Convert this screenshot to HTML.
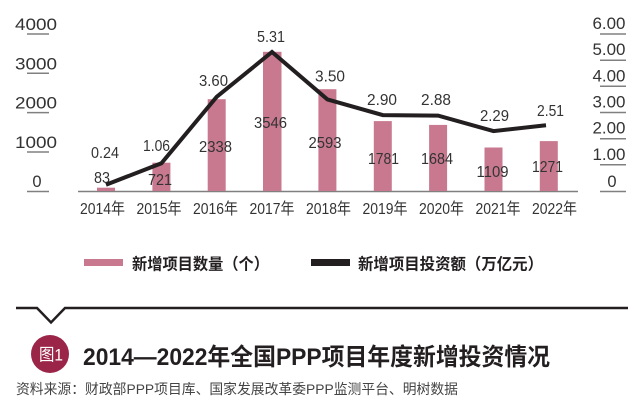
<!DOCTYPE html>
<html><head><meta charset="utf-8"><style>
html,body{margin:0;padding:0;background:#fff;}
svg{display:block;}
text{font-family:"Liberation Sans","Noto Sans CJK SC",sans-serif;}
</style></head><body>
<svg width="644" height="417" viewBox="0 0 644 417" xmlns="http://www.w3.org/2000/svg">
<rect width="644" height="417" fill="#fff"/>
<!-- left axis ticks -->
<g stroke="#808080" stroke-width="1.5">
<line x1="27" y1="34" x2="49" y2="34"/>
<line x1="27" y1="73.3" x2="49" y2="73.3"/>
<line x1="27" y1="112.6" x2="49" y2="112.6"/>
<line x1="27" y1="152" x2="49" y2="152"/>
<line x1="27" y1="191.5" x2="49" y2="191.5"/>
<line x1="600" y1="34" x2="626" y2="34"/>
<line x1="600" y1="60.2" x2="626" y2="60.2"/>
<line x1="600" y1="86.3" x2="626" y2="86.3"/>
<line x1="600" y1="112.5" x2="626" y2="112.5"/>
<line x1="600" y1="138.7" x2="626" y2="138.7"/>
<line x1="600" y1="164.8" x2="626" y2="164.8"/>
<line x1="600" y1="191.5" x2="626" y2="191.5"/>
<line x1="78" y1="191.5" x2="578" y2="191.5"/>
</g>
<g fill="#333" font-size="16.5" text-anchor="middle">
<text x="36" y="30" textLength="42" lengthAdjust="spacingAndGlyphs">4000</text>
<text x="36" y="69.3" textLength="42" lengthAdjust="spacingAndGlyphs">3000</text>
<text x="36" y="108.6" textLength="42" lengthAdjust="spacingAndGlyphs">2000</text>
<text x="36" y="148" textLength="42" lengthAdjust="spacingAndGlyphs">1000</text>
<text x="37" y="187">0</text>
<text x="609" y="29" textLength="33" lengthAdjust="spacingAndGlyphs">6.00</text>
<text x="609" y="55.2" textLength="33" lengthAdjust="spacingAndGlyphs">5.00</text>
<text x="609" y="81.3" textLength="33" lengthAdjust="spacingAndGlyphs">4.00</text>
<text x="609" y="107.5" textLength="33" lengthAdjust="spacingAndGlyphs">3.00</text>
<text x="609" y="133.7" textLength="33" lengthAdjust="spacingAndGlyphs">2.00</text>
<text x="609" y="159.8" textLength="33" lengthAdjust="spacingAndGlyphs">1.00</text>
<text x="612" y="187">0</text>
</g>
<!-- bars -->
<g fill="#c87990">
<rect x="97" y="187.7" width="18" height="3.3"/>
<rect x="152.4" y="162.7" width="18" height="28.3"/>
<rect x="207.7" y="99.2" width="18" height="91.8"/>
<rect x="263" y="51.8" width="18.5" height="139.2"/>
<rect x="318.4" y="89.2" width="18" height="101.8"/>
<rect x="373.8" y="121.1" width="18" height="69.9"/>
<rect x="429.1" y="124.9" width="18" height="66.1"/>
<rect x="484.5" y="147.5" width="18" height="43.5"/>
<rect x="539.8" y="141.1" width="18" height="49.9"/>
</g>
<!-- count labels -->
<g fill="#333" font-size="16" text-anchor="middle">
<text x="102" y="183" textLength="16" lengthAdjust="spacingAndGlyphs">83</text>
<text x="160" y="185" textLength="24" lengthAdjust="spacingAndGlyphs">721</text>
<text x="215.5" y="152" textLength="33" lengthAdjust="spacingAndGlyphs">2338</text>
<text x="270.5" y="128" textLength="33" lengthAdjust="spacingAndGlyphs">3546</text>
<text x="325" y="148" textLength="33" lengthAdjust="spacingAndGlyphs">2593</text>
<text x="383.5" y="164" textLength="31" lengthAdjust="spacingAndGlyphs">1781</text>
<text x="437" y="164" textLength="32" lengthAdjust="spacingAndGlyphs">1684</text>
<text x="492.5" y="177" textLength="32" lengthAdjust="spacingAndGlyphs">1109</text>
<text x="547.5" y="172" textLength="31" lengthAdjust="spacingAndGlyphs">1271</text>
</g>
<!-- line -->
<polyline fill="none" stroke="#231f20" stroke-width="4" stroke-linejoin="miter" points="106,184.7 161.4,163.3 216.7,96.8 272,52 327.4,99.4 382.8,115.1 438.1,115.6 493.5,131.1 546,125.3"/>
<!-- value labels -->
<g fill="#333" font-size="16" text-anchor="middle">
<text x="105" y="158" textLength="28" lengthAdjust="spacingAndGlyphs">0.24</text>
<text x="156.5" y="151" textLength="27" lengthAdjust="spacingAndGlyphs">1.06</text>
<text x="213.5" y="86" textLength="29" lengthAdjust="spacingAndGlyphs">3.60</text>
<text x="271" y="42" textLength="28" lengthAdjust="spacingAndGlyphs">5.31</text>
<text x="330" y="81.5" textLength="30" lengthAdjust="spacingAndGlyphs">3.50</text>
<text x="382" y="105" textLength="30" lengthAdjust="spacingAndGlyphs">2.90</text>
<text x="436" y="105" textLength="30" lengthAdjust="spacingAndGlyphs">2.88</text>
<text x="494.5" y="121" textLength="29" lengthAdjust="spacingAndGlyphs">2.29</text>
<text x="550.5" y="116" textLength="27" lengthAdjust="spacingAndGlyphs">2.51</text>
</g>
<!-- x labels -->
<g fill="#333" font-size="16" text-anchor="middle">
<text x="102.5" y="214" textLength="45" lengthAdjust="spacingAndGlyphs">2014年</text>
<text x="159" y="214" textLength="45" lengthAdjust="spacingAndGlyphs">2015年</text>
<text x="215.5" y="214" textLength="45" lengthAdjust="spacingAndGlyphs">2016年</text>
<text x="272" y="214" textLength="45" lengthAdjust="spacingAndGlyphs">2017年</text>
<text x="328.5" y="214" textLength="45" lengthAdjust="spacingAndGlyphs">2018年</text>
<text x="385" y="214" textLength="45" lengthAdjust="spacingAndGlyphs">2019年</text>
<text x="441.5" y="214" textLength="45" lengthAdjust="spacingAndGlyphs">2020年</text>
<text x="498" y="214" textLength="45" lengthAdjust="spacingAndGlyphs">2021年</text>
<text x="554.5" y="214" textLength="45" lengthAdjust="spacingAndGlyphs">2022年</text>
</g>
<!-- legend -->
<rect x="84" y="259" width="39" height="7" fill="#c87990"/>
<text x="132" y="269.5" font-size="16" font-weight="bold" fill="#231f20" textLength="137" lengthAdjust="spacingAndGlyphs">新增项目数量（个）</text>
<rect x="311" y="259" width="39" height="7" fill="#231f20"/>
<text x="358" y="269.5" font-size="16" font-weight="bold" fill="#231f20" textLength="185" lengthAdjust="spacingAndGlyphs">新增项目投资额（万亿元）</text>
<!-- divider -->
<polyline fill="none" stroke="#231f20" stroke-width="2.5" points="16,308 37,308 51,322.5 65,308 628,308"/>
<!-- badge -->
<circle cx="50" cy="354" r="19" fill="#9b2548"/>
<text x="51" y="360.5" font-size="17" fill="#fff" text-anchor="middle" textLength="24" lengthAdjust="spacingAndGlyphs">图1</text>
<text x="83" y="365" font-size="24" font-weight="bold" fill="#231f20" textLength="467" lengthAdjust="spacingAndGlyphs">2014—2022年全国PPP项目年度新增投资情况</text>
<text x="16" y="394" font-size="14" fill="#444" textLength="442" lengthAdjust="spacingAndGlyphs">资料来源：财政部PPP项目库、国家发展改革委PPP监测平台、明树数据</text>
</svg>
</body></html>
